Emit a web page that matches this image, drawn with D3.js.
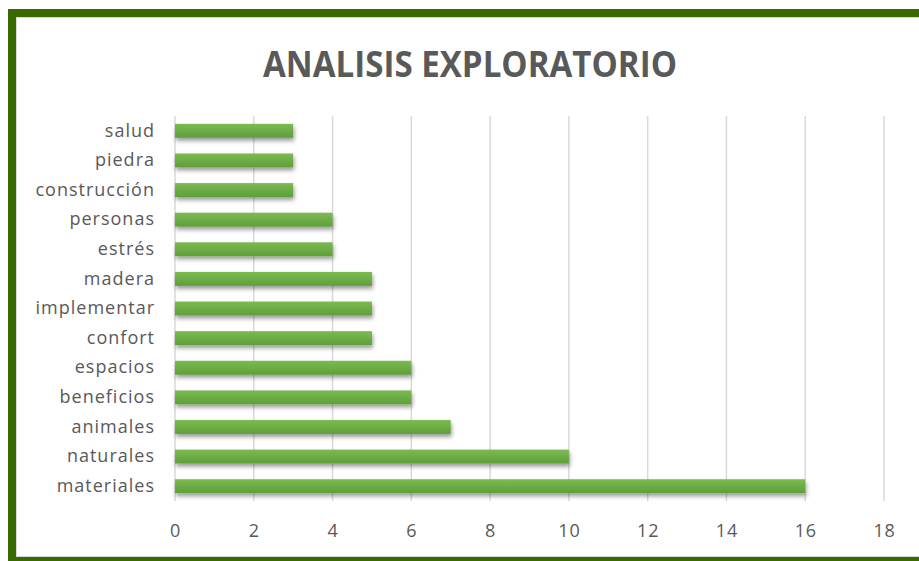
<!DOCTYPE html>
<html>
<head>
<meta charset="utf-8">
<script src="https://cdn.jsdelivr.net/npm/d3@7"></script>
<style>
  html, body { margin: 0; padding: 0; background: #fff; }
  svg { display: block; }
  text { font-family: "Open Sans", "Noto Sans", sans-serif; fill: #595959; }
</style>
</head>
<body>
<svg id="chart"></svg>
<script>
// data, top to bottom as in the chart
const categories = ['salud', 'piedra', 'construcción', 'personas', 'estrés', 'madera',
  'implementar', 'confort', 'espacios', 'beneficios', 'animales', 'naturales', 'materiales'];
const values = [3, 3, 3, 4, 4, 5, 5, 5, 6, 6, 7, 10, 16];
const xTicks = [0, 2, 4, 6, 8, 10, 12, 14, 16, 18];
const title = 'ANALISIS EXPLORATORIO';

const data = categories.map((c, i) => ({ word: c, count: values[i] }));

const width = 919, height = 561;
const margin = { top: 116, right: 35, bottom: 60, left: 175 };
const innerW = 884 - margin.left;
const innerH = 501 - margin.top;

const svg = d3.select('#chart')
    .attr('width', width)
    .attr('height', height);

// frame: thick dark green border, cut off on the right
svg.append('rect')
    .attr('x', 12).attr('y', 13)
    .attr('width', 940).attr('height', 548)
    .attr('fill', '#fff')
    .attr('stroke', '#386a00')
    .attr('stroke-width', 8);
svg.append('rect')
    .attr('x', 16.5).attr('y', 17.5)
    .attr('width', 940).attr('height', 539)
    .attr('fill', 'none')
    .attr('stroke', '#d9d9d9')
    .attr('stroke-width', 1);

const defs = svg.append('defs');
const grad = defs.append('linearGradient')
    .attr('id', 'barGrad')
    .attr('x1', 0).attr('y1', 0).attr('x2', 0).attr('y2', 1);
grad.append('stop').attr('offset', '0%').attr('stop-color', '#7cba52');
grad.append('stop').attr('offset', '100%').attr('stop-color', '#5f9f39');

const shadow = defs.append('filter')
    .attr('id', 'shadow')
    .attr('x', '-5%').attr('y', '-50%')
    .attr('width', '110%').attr('height', '220%');
shadow.append('feDropShadow')
    .attr('dx', 1).attr('dy', 3)
    .attr('stdDeviation', 2)
    .attr('flood-color', '#000')
    .attr('flood-opacity', 0.4);

// title
svg.append('text')
    .attr('x', 470)
    .attr('y', 77)
    .attr('text-anchor', 'middle')
    .attr('font-size', 35)
    .attr('font-weight', 'bold')
    .attr('textLength', 414)
    .attr('lengthAdjust', 'spacingAndGlyphs')
    .text(title);

const chart = svg.append('g')
    .attr('transform', `translate(${margin.left},${margin.top})`);

const xScale = d3.scaleLinear()
    .domain([0, 18])
    .range([0, innerW]);

const yScale = d3.scaleBand()
    .domain(categories)
    .range([0, innerH])
    .paddingInner(0.53)
    .paddingOuter(0.265);

// gridlines
chart.append('g')
    .attr('class', 'grid')
    .selectAll('line')
    .data(xTicks)
  .join('line')
    .attr('x1', d => xScale(d))
    .attr('x2', d => xScale(d))
    .attr('y1', 0)
    .attr('y2', innerH)
    .attr('stroke', '#d9d9d9')
    .attr('stroke-width', 1.5);

// x axis labels
const xAxis = d3.axisBottom(xScale)
    .tickValues(xTicks)
    .tickSize(0)
    .tickPadding(23);
chart.append('g')
    .attr('transform', `translate(0,${innerH})`)
    .call(xAxis)
    .call(g => g.select('.domain').remove())
    .call(g => g.selectAll('text')
        .attr('font-size', 18)
        .attr('font-family', null)
        .attr('fill', '#595959')
        .style('letter-spacing', '0.8px'));

// y axis labels
const yAxis = d3.axisLeft(yScale)
    .tickSize(0)
    .tickPadding(20);
chart.append('g')
    .call(yAxis)
    .call(g => g.select('.domain').remove())
    .call(g => g.selectAll('text')
        .attr('font-size', 18)
        .attr('font-family', null)
        .attr('fill', '#595959')
        .style('letter-spacing', '1px'));

// bars
chart.selectAll('.bar')
    .data(data)
  .join('rect')
    .attr('class', 'bar')
    .attr('x', xScale(0))
    .attr('y', d => yScale(d.word))
    .attr('width', d => xScale(d.count) - xScale(0))
    .attr('height', yScale.bandwidth())
    .attr('fill', 'url(#barGrad)')
    .attr('filter', 'url(#shadow)');
</script>
</body>
</html>
